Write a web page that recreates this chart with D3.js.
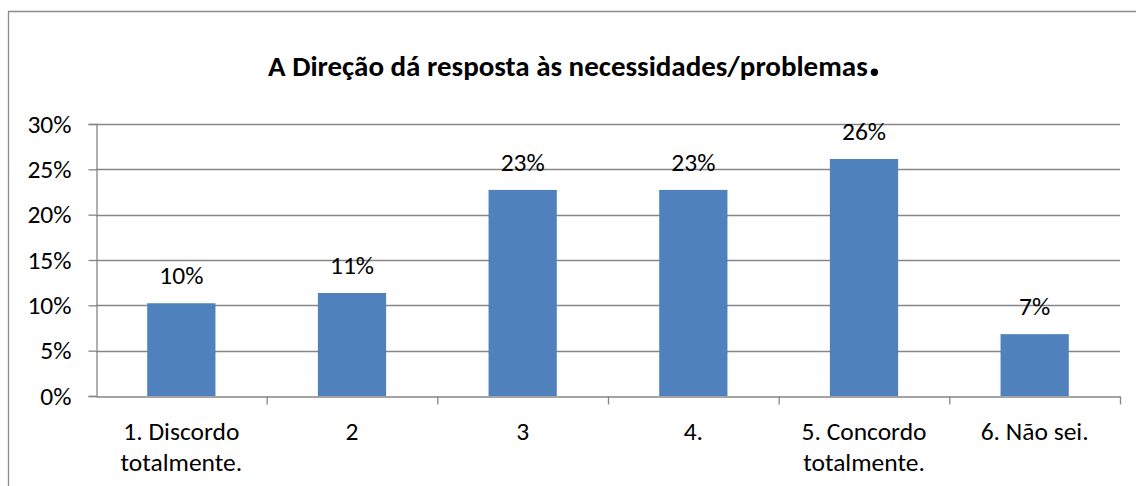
<!DOCTYPE html>
<html>
<head>
<meta charset="utf-8">
<title>A Direção dá resposta às necessidades/problemas.</title>
<style>
  body { margin: 0; background: #fff; }
  text { font-family: "Carlito", "Liberation Sans", Arial, sans-serif; fill: #000; }
</style>
</head>
<body>
<script src="https://cdn.jsdelivr.net/npm/d3@7"></script>
<script>
// data (percent of answers)
var categories = [["1. Discordo", "totalmente."], ["2"], ["3"], ["4."], ["5. Concordo", "totalmente."], ["6. Não sei."]];
var values = [10.23, 11.36, 22.73, 22.73, 26.14, 6.82];
var labels = ["10%", "11%", "23%", "23%", "26%", "7%"];
var yTicks = [0, 5, 10, 15, 20, 25, 30];
var title = "A Direção dá resposta às necessidades/problemas";

var W = 1136, H = 486;
var plot = {left: 96, right: 1120, top: 124, bottom: 396};
var fs = 25.5;

var svg = d3.select("body").append("svg")
    .attr("width", W)
    .attr("height", H);

// outer chart frame (cut off at right and bottom like the picture)
svg.append("path")
    .attr("d", "M8.5," + H + " V11.5 H" + W)
    .style("fill", "none")
    .style("stroke", "#8c8c8c")
    .style("stroke-width", 1.3);

var t = svg.append("text")
    .attr("x", 268)
    .attr("y", 76)
    .attr("font-size", 29)
    .attr("font-weight", "bold")
    .text(title);
// the full stop in the original is set much bigger
t.append("tspan").attr("font-size", 50).text(".");

var x = d3.scaleBand()
    .domain(d3.range(categories.length))
    .range([plot.left, plot.right])
    .paddingInner(0.6)
    .paddingOuter(0.3);

var y = d3.scaleLinear().domain([0, 30]).range([plot.bottom, plot.top]);

// gridlines
svg.append("g").selectAll("line")
    .data(yTicks.filter(function(d) { return d > 0; }))
    .join("line")
    .attr("x1", plot.left).attr("x2", plot.right)
    .attr("y1", function(d) { return Math.round(y(d)) + 0.5; })
    .attr("y2", function(d) { return Math.round(y(d)) + 0.5; })
    .style("stroke", "#868686")
    .style("stroke-width", 1.3);

// bars
svg.append("g").selectAll("rect")
    .data(values)
    .join("rect")
    .attr("x", function(d, i) { return x(i); })
    .attr("width", x.bandwidth())
    .attr("y", function(d) { return y(d); })
    .attr("height", function(d) { return y(0) - y(d); })
    .style("fill", "#4f81bd");

// data labels
svg.append("g").selectAll("text")
    .data(values)
    .join("text")
    .attr("x", function(d, i) { return x(i) + x.bandwidth() / 2; })
    .attr("y", function(d) { return y(d) - 19; })
    .attr("text-anchor", "middle")
    .attr("font-size", fs)
    .text(function(d, i) { return labels[i]; });

// y axis
var yAxis = svg.append("g")
    .attr("transform", "translate(" + (plot.left + 0.5) + ",0)")
    .call(d3.axisLeft(y).tickValues(yTicks).tickFormat(function(d) { return d + "%"; }).tickSize(8).tickPadding(17));
yAxis.selectAll("text").attr("font-size", fs).style("font-family", null);

// x axis: ticks at category boundaries
var xb = d3.scaleLinear().domain([0, categories.length]).range([plot.left, plot.right]);
var xAxis = svg.append("g")
    .attr("transform", "translate(0," + (plot.bottom + 0.5) + ")")
    .call(d3.axisBottom(xb).ticks(categories.length).tickFormat("").tickSize(8).tickSizeOuter(0));
xAxis.select(".tick").remove();

svg.selectAll(".domain, .tick line")
    .style("stroke", "#868686")
    .style("stroke-width", 1.3);

var xl = svg.append("g").selectAll("text")
    .data(categories)
    .join("text")
    .attr("x", function(d, i) { return x(i) + x.bandwidth() / 2; })
    .attr("y", 440)
    .attr("text-anchor", "middle")
    .attr("font-size", fs);
xl.selectAll("tspan")
    .data(function(d) { return d; })
    .join("tspan")
    .attr("x", function() { return d3.select(this.parentNode).attr("x"); })
    .attr("dy", function(d, i) { return i ? 31 : 0; })
    .text(function(d) { return d; });
</script>
</body>
</html>
